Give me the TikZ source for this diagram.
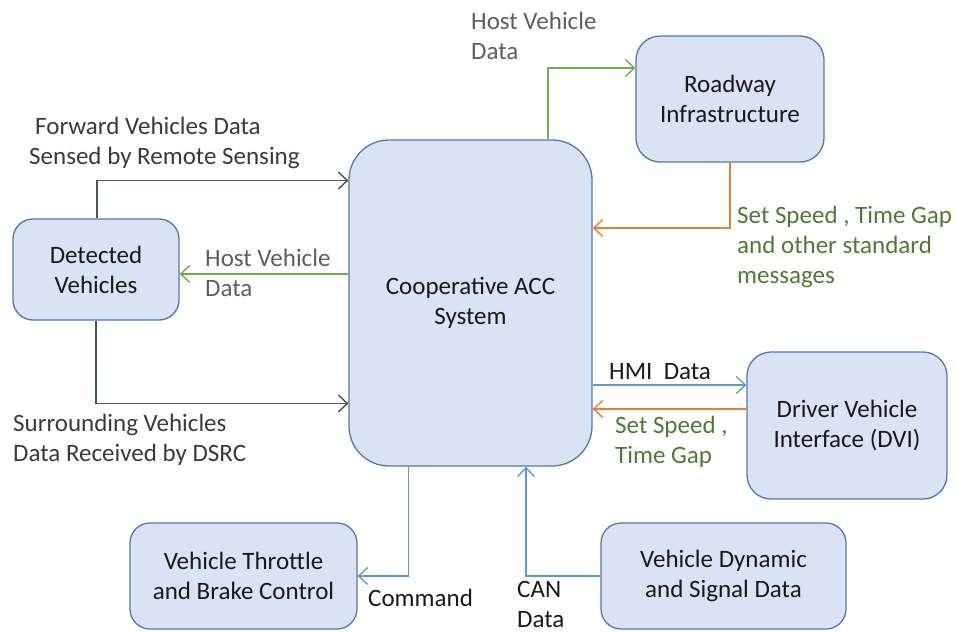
\documentclass[tikz,border=0pt]{standalone}
\usepackage{fontspec}
\setmainfont{Carlito}
\usetikzlibrary{arrows.meta}
\definecolor{boxfill}{HTML}{DAE3F3}
\definecolor{boxline}{HTML}{5279A6}
\definecolor{cgreen}{HTML}{70AD47}
\definecolor{corange}{HTML}{ED7D31}
\definecolor{cblue}{HTML}{5B9BD5}
\definecolor{cslate}{HTML}{44546A}
\definecolor{tgreen}{HTML}{4F7A33}
\definecolor{tgray}{HTML}{5E5E5E}
\definecolor{tdark}{HTML}{3A3A3A}
\begin{document}
\begin{tikzpicture}[x=1pt,y=-1pt,
  font=\fontsize{25}{30}\selectfont,
  blk/.style={draw=boxline, fill=boxfill, line width=1.3pt, align=center, inner sep=0pt, text=black!90},
  conn/.style={line width=1.4pt, -{Straight Barb[length=9pt,width=17pt,line width=1.4pt]}},
  lbl/.style={anchor=north west, inner sep=0pt, align=left}
]
\useasboundingbox (0,0) rectangle (957,631);
% boxes
\node[blk, minimum width=243pt, minimum height=326pt, rounded corners=40pt] (acc) at (470.5,303) {Cooperative ACC\\System};
\node[blk, minimum width=188pt, minimum height=126pt, rounded corners=24pt] (road) at (730,99) {Roadway\\Infrastructure};
\node[blk, minimum width=166pt, minimum height=101pt, rounded corners=20pt] (det) at (96,269.5) {Detected\\Vehicles};
\node[blk, minimum width=200pt, minimum height=147pt, rounded corners=24pt] (dvi) at (847,425.5) {Driver Vehicle\\Interface (DVI)};
\node[blk, minimum width=227pt, minimum height=106pt, rounded corners=20pt] (thr) at (243.5,576) {Vehicle Throttle\\and Brake Control};
\node[blk, minimum width=245pt, minimum height=106pt, rounded corners=20pt] (dyn) at (723.5,576) {Vehicle Dynamic\\and Signal Data};
% connectors
\draw[conn, cgreen] ([xshift=77.5pt]acc.north) |- ([yshift=31pt]road.west);
\draw[conn, corange] (road.south) |- ([yshift=75pt]acc.east);
\draw[conn, cslate] ([xshift=1pt]det.north) |- ([yshift=122.5pt]acc.west);
\draw[conn, cgreen] ([yshift=29pt]acc.west) -- ([yshift=29pt]acc.west -| det.east);
\draw[conn, cslate] (det.south) |- ([yshift=-100.5pt]acc.west);
\draw[conn, cblue] ([yshift=-82pt]acc.east) -- ([yshift=-82pt]acc.east -| dvi.west);
\draw[conn, corange] ([yshift=16.5pt]dvi.west) -- ([yshift=16.5pt]dvi.west -| acc.east);
\draw[conn, cblue] ([xshift=-62pt]acc.south) |- (thr.east);
\draw[conn, cblue] (dyn.west) -| ([xshift=55.5pt]acc.south);
% labels
\node[lbl, text=tgray] (l1) at (471,12) {Host Vehicle\\Data};
\node[lbl, text=tgreen] (l2) at (737,206) {Set Speed , Time Gap\\and other standard\\messages};
\node[lbl, text=tdark] (l3) at (29,117) {\hspace*{6pt}Forward Vehicles Data\\Sensed by Remote Sensing};
\node[lbl, text=tgray] (l4) at (205,249) {Host Vehicle\\Data};
\node[lbl, text=tdark] (l5) at (13,414) {Surrounding Vehicles\\Data Received by DSRC};
\node[lbl, text=black!90] (l6) at (609,363) {HMI~ Data};
\node[lbl, text=tgreen] (l7) at (615,416) {Set Speed ,\\Time Gap};
\node[lbl, text=black!90] (l8) at (368,589) {Command};
\node[lbl, text=black!90] (l9) at (517,581) {CAN\\Data};
\end{tikzpicture}
\end{document}
